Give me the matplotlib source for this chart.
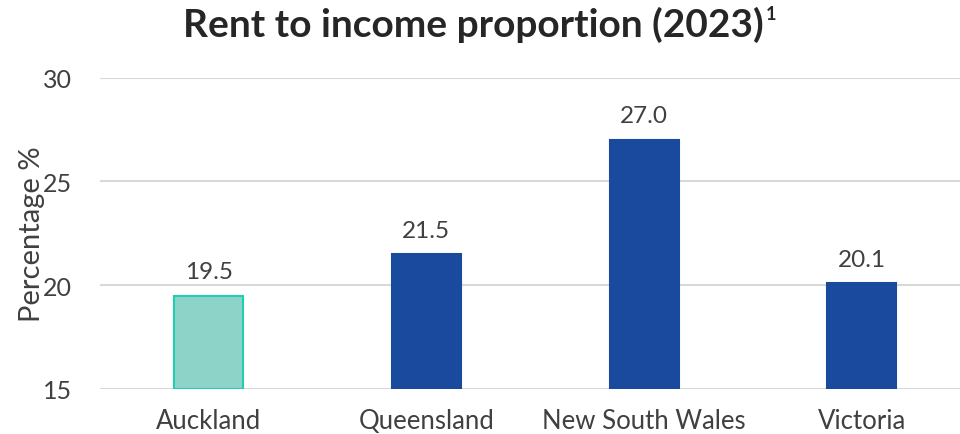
import matplotlib
matplotlib.use("Agg")
import matplotlib.pyplot as plt

regions = ["Auckland", "Queensland", "New South Wales", "Victoria"]
rent_to_income = [19.5, 21.5, 27.0, 20.1]
y_ticks = [15, 20, 25, 30]

plt.rcParams["font.family"] = ["Lato", "DejaVu Sans"]
text_color = "#404040"
blue = "#1A4A9E"
teal_fill = "#8DD3C7"
teal_edge = "#1ECFB3"

W, H = 960, 435
fig = plt.figure(figsize=(W / 100, H / 100), dpi=100)
left, right = 100, 960
bottom, top = 390, 78.5
ax = fig.add_axes([left / W, 1 - bottom / H, (right - left) / W, (bottom - top) / H])

spacing = 217.6
x = list(range(len(regions)))
colors = [teal_fill] + [blue] * 3
edges = [teal_edge] + [blue] * 3
ax.bar(x, [v - 15 for v in rent_to_income], bottom=15, width=69 / spacing,
       color=colors, edgecolor=edges, linewidth=1.5, zorder=3)

for xi, v in zip(x, rent_to_income):
    ax.text(xi, v + 0.65, f"{v:.1f}", ha="center", va="bottom",
            fontsize=17.5, color=text_color)

ax.set_xlim(-0.5, -0.5 + (right - left) / spacing)
ax.set_ylim(15, 30)
ax.set_yticks(y_ticks)
ax.set_xticks(x)
ax.set_xticklabels(regions, fontsize=18.5, color=text_color)
ax.tick_params(axis="y", labelsize=18, labelcolor=text_color, length=0, pad=20)
ax.tick_params(axis="x", length=0, pad=14)
ax.grid(axis="y", color="#D9D9D9", linewidth=1.5, zorder=0)
for s in ax.spines.values():
    s.set_visible(False)
ax.set_ylabel("Percentage %", fontsize=21, color=text_color)
ax.yaxis.set_label_coords(-55 / (right - left), 0.5)

title = fig.text(0.493, 1 - 25 / H, "Rent to income proportion (2023)",
                 ha="center", va="center", fontsize=28, fontweight="bold",
                 color="#262626")
fig.canvas.draw()
bb = title.get_window_extent()
fig.text((bb.x1 + 2) / W, 1 - 14 / H, "1", ha="left", va="center",
         fontsize=13, fontweight="bold", color="#262626")

fig.savefig("out.png", dpi=100)
